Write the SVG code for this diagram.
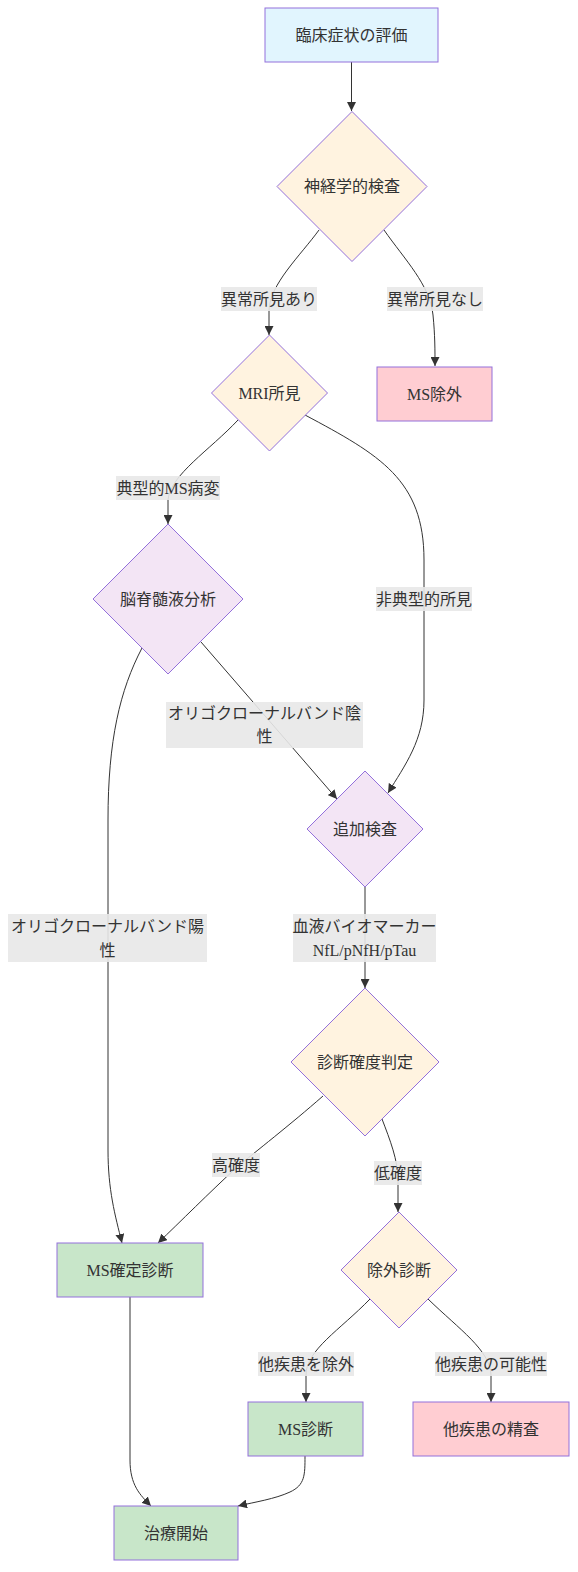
<svg xmlns="http://www.w3.org/2000/svg" width="578" height="1572" viewBox="0 0 578 1572">
<style>
text{font-family:"Liberation Serif","Noto Sans CJK JP",serif;font-size:16px;fill:#333;text-anchor:middle;dominant-baseline:central}
.n{stroke:#9370DB;stroke-width:1}
.blue{fill:#e1f5fe}.orange{fill:#fff3e0}.purple{fill:#f3e5f5}.green{fill:#c8e6c9}.pink{fill:#ffcdd2}
.e{fill:none;stroke:#333;stroke-width:1;marker-end:url(#arr)}
.lb{fill:#e8e8e8;opacity:0.9}
</style>
<defs>
<marker id="arr" viewBox="0 0 10 10" refX="10" refY="5" markerWidth="9" markerHeight="9" markerUnits="userSpaceOnUse" orient="auto">
<path d="M0,0 L10,5 L0,10 z" fill="#333"/>
</marker>
</defs>
<rect width="578" height="1572" fill="#ffffff"/>
<g id="connectors">
<path class="e" d="M351.5,62 L351.5,111"/>
<path class="e" d="M319,230 C300,256 270,284 269,310 L269,335"/>
<path class="e" d="M384,230 C405,260 430,285 433,315 C435,335 435,350 435,366"/>
<path class="e" d="M238,420 C210,450 170,475 168,500 L168,524"/>
<path class="e" d="M305,415 C380,455 424,480 424,560 L424,700 C424,740 405,765 388,793"/>
<path class="e" d="M201,642 L337,799"/>
<path class="e" d="M142,648 C120,690 108,740 108,820 L108,1150 C108,1190 115,1215 122,1243"/>
<path class="e" d="M365,887 L365,988"/>
<path class="e" d="M323,1096 C290,1125 255,1152 236,1168 C210,1192 180,1222 158,1243"/>
<path class="e" d="M382,1119 C390,1140 398,1160 398,1180 L398,1212"/>
<path class="e" d="M370,1299 C340,1330 306,1350 306,1375 L306,1402"/>
<path class="e" d="M428,1299 C460,1330 490,1350 491,1375 L491,1402"/>
<path class="e" d="M130,1297 L130,1460 C130,1485 140,1495 151,1506"/>
<path class="e" d="M305,1456 C305,1475 305,1485 290,1492 C275,1499 255,1502 238,1506"/>
</g>
<g id="edge-labels">
<rect class="lb" x="221" y="287" width="96" height="24"/><text x="269" y="299">異常所見あり</text>
<rect class="lb" x="387" y="287" width="96" height="24"/><text x="435" y="299">異常所見なし</text>
<rect class="lb" x="116" y="476" width="104" height="24"/><text x="168" y="488">典型的MS病変</text>
<rect class="lb" x="376" y="587" width="96" height="24"/><text x="424" y="599">非典型的所見</text>
<rect class="lb" x="166" y="702" width="197" height="46"/><text x="264.5" y="713">オリゴクローナルバンド陰</text><text x="264.5" y="736">性</text>
<rect class="lb" x="8" y="914" width="199" height="48"/><text x="107.5" y="926">オリゴクローナルバンド陽</text><text x="107.5" y="950">性</text>
<rect class="lb" x="293" y="914" width="143" height="48"/><text x="364.5" y="926">血液バイオマーカー</text><text x="364.5" y="950">NfL/pNfH/pTau</text>
<rect class="lb" x="212" y="1153" width="48" height="24"/><text x="236" y="1165">高確度</text>
<rect class="lb" x="374" y="1161" width="48" height="24"/><text x="398" y="1173">低確度</text>
<rect class="lb" x="258" y="1352" width="96" height="24"/><text x="306" y="1364">他疾患を除外</text>
<rect class="lb" x="435" y="1352" width="112" height="24"/><text x="491" y="1364">他疾患の可能性</text>
</g>
<g id="A"><rect class="n blue" x="265" y="8" width="173" height="54"/><text x="351.5" y="35">臨床症状の評価</text></g>
<g id="B"><polygon class="n orange" points="352,111.5 427,186.5 352,261.5 277,186.5"/><text x="352" y="186.5">神経学的検査</text></g>
<g id="C"><polygon class="n orange" points="269.5,335 327.5,393 269.5,451 211.5,393"/><text x="269.5" y="393">MRI所見</text></g>
<g id="D"><rect class="n pink" x="377" y="367" width="115" height="54"/><text x="434.5" y="394">MS除外</text></g>
<g id="E"><polygon class="n purple" points="168,524 243,599 168,674 93,599"/><text x="168" y="599">脳脊髄液分析</text></g>
<g id="F"><polygon class="n purple" points="365,771 423,829 365,887 307,829"/><text x="365" y="829">追加検査</text></g>
<g id="H"><polygon class="n orange" points="365,988 439,1062 365,1136 291,1062"/><text x="365" y="1062">診断確度判定</text></g>
<g id="G"><rect class="n green" x="57" y="1243" width="146" height="54"/><text x="130" y="1270">MS確定診断</text></g>
<g id="I"><polygon class="n orange" points="399,1212 457,1270 399,1328 341,1270"/><text x="399" y="1270">除外診断</text></g>
<g id="J"><rect class="n green" x="248" y="1402" width="115" height="54"/><text x="305.5" y="1429">MS診断</text></g>
<g id="K"><rect class="n pink" x="413" y="1402" width="156" height="54"/><text x="491" y="1429">他疾患の精査</text></g>
<g id="L"><rect class="n green" x="114" y="1506" width="124" height="54"/><text x="176" y="1533">治療開始</text></g>
</svg>
